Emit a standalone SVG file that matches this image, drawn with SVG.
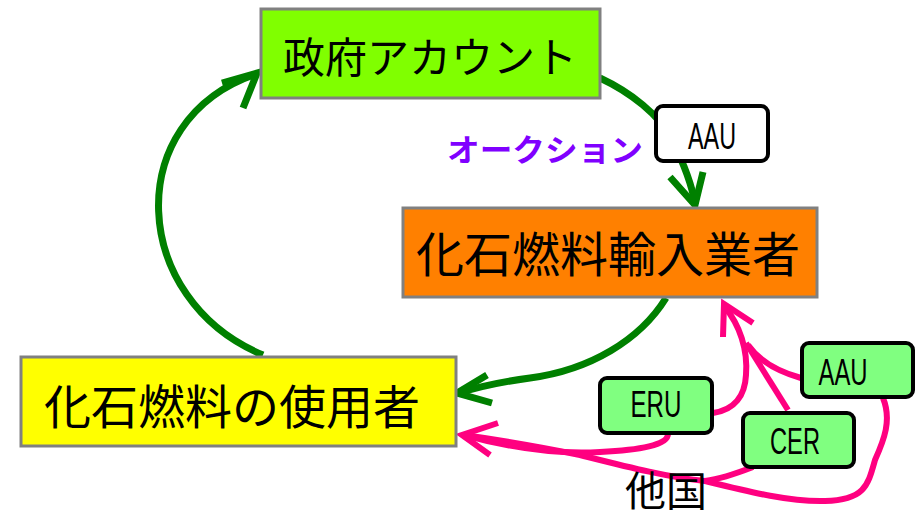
<svg xmlns="http://www.w3.org/2000/svg" width="920" height="517" viewBox="0 0 920 517">
<style>
.box{stroke:#808080;stroke-width:3}
.lbl{stroke:#000;stroke-width:4}
.big{font-family:"Noto Sans CJK JP","Noto Sans",sans-serif;fill:#000;text-anchor:middle;dominant-baseline:central}
.tag{font-family:"Liberation Sans","DejaVu Sans",sans-serif;font-size:37px;fill:#000;text-anchor:middle}
.g{fill:none;stroke:#008000;stroke-width:7}
.p{fill:none;stroke:#FF0080;stroke-width:6}
</style>
<rect width="920" height="517" fill="#fff"/>
<g id="connectors">
  <path class="g" d="M263,355 C130,300 120,120 256,74"/>
  <polyline class="g" points="222,83 257,73 243,108"/>
  <path class="g" d="M600,78 C630,92 660,115 672,140 C682,160 692,185 695,204"/>
  <polyline class="g" points="670,177 695,205 703,172"/>
  <path class="g" d="M666,298 C640,340 590,370 530,378 C500,382 475,388 459,393"/>
  <polyline class="g" points="487,375 457,393 492,403"/>
  <path class="p" d="M713,413 C735,410 745,395 746,375 C748,350 740,325 724,306"/>
  <path class="p" d="M801,378 C780,372 760,362 748,345"/>
  <path class="p" d="M788,410 L746,343"/>
  <polyline class="p" points="723,337 724,304 753,323"/>
  <path class="p" d="M668,434 C668,445 640,450 600,452 C550,455 500,445 464,435"/>
  <path class="p" d="M753,467 C735,474 720,479 705,481 C670,478 620,465 580,455 C540,447 500,440 464,435"/>
  <path class="p" d="M883,398 C892,420 884,440 875,460 C868,485 865,500 825,501 C790,502 750,492 705,481"/>
  <polyline class="p" points="498,423 462,435 490,455"/>
</g>
<g id="gov">
  <rect class="box" x="261" y="9" width="339" height="89" fill="#80FF00"/>
  <text class="big" x="430" y="54" font-size="42">政府アカウント</text>
</g>
<g id="importer">
  <rect class="box" x="403" y="208" width="414" height="89" fill="#FF8000"/>
  <text class="big" x="608" y="251" font-size="48">化石燃料輸入業者</text>
</g>
<g id="user">
  <rect class="box" x="21" y="357" width="435" height="89" fill="#FFFF00"/>
  <text class="big" x="232" y="403" font-size="47">化石燃料の使用者</text>
</g>
<g id="auction">
  <text x="447" y="147" font-family="Noto Sans CJK JP,sans-serif" font-weight="bold" font-size="31" fill="#8000FF" dominant-baseline="central" textLength="196" lengthAdjust="spacingAndGlyphs">オークション</text>
</g>
<g id="aau-white">
  <rect class="lbl" x="656" y="106" width="112" height="55" rx="7" fill="#fff"/>
  <text class="tag" x="712" y="149" textLength="48" lengthAdjust="spacingAndGlyphs">AAU</text>
</g>
<g id="eru">
  <rect class="lbl" x="600" y="378" width="112" height="55" rx="7" fill="#80FF80"/>
  <text class="tag" x="656" y="417" textLength="51" lengthAdjust="spacingAndGlyphs">ERU</text>
</g>
<g id="aau-green">
  <rect class="lbl" x="802" y="343" width="111" height="54" rx="7" fill="#80FF80"/>
  <text class="tag" x="843" y="385" textLength="49" lengthAdjust="spacingAndGlyphs">AAU</text>
</g>
<g id="cer">
  <rect class="lbl" x="743" y="413" width="111" height="54" rx="7" fill="#80FF80"/>
  <text class="tag" x="795" y="454" textLength="50" lengthAdjust="spacingAndGlyphs">CER</text>
</g>
<g id="other">
  <text class="big" x="666" y="488" font-size="41">他国</text>
</g>
</svg>
